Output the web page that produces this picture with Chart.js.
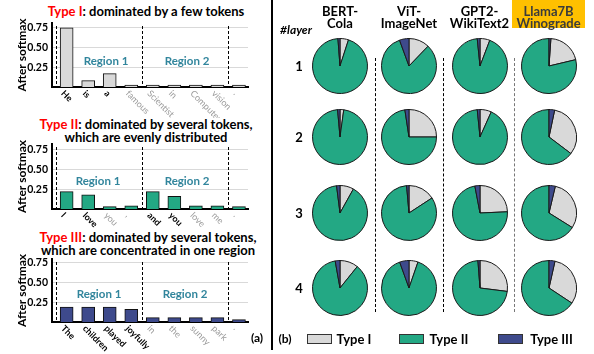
<!DOCTYPE html>
<html>
<head>
<meta charset="utf-8">
<script src="https://cdn.jsdelivr.net/npm/chart.js@4.4.1/dist/chart.umd.min.js"></script>
<style>
  html, body { margin: 0; padding: 0; background: #fff; }
  #fig { position: relative; width: 594px; height: 354px; overflow: hidden;
         font-family: Lato, "Open Sans", sans-serif; font-weight: 700; color: #000; }
  canvas { position: absolute; }
  .title { position: absolute; left: 0; width: 292px; text-align: center; font-size: 13px;
           line-height: 13px; white-space: nowrap; }
  .red { color: #ff0000; }
  .region { position: absolute; color: #31859c; font-size: 11.5px; white-space: nowrap;
            transform: translate(-50%, -50%); }
  .lbl { position: absolute; white-space: nowrap; transform: translate(-50%, -50%); }
  .head { position: absolute; top: 5px; width: 80px; margin-left: -40px; text-align: center;
          font-size: 13px; line-height: 12px; }
  .vline { position: absolute; width: 0; }
  .swatch { position: absolute; width: 23px; height: 8px; border: 1px solid #333; top: 334px; }
</style>
</head>
<body>
<div id="fig">
  <div class="title" style="top:5px"><span class="red">Type I</span>: dominated by a few tokens</div>
  <div class="title" style="top:118px"><span class="red">Type II</span>: dominated by several tokens,<br>which are evenly distributed</div>
  <div class="title" style="top:231px;left:2px"><span class="red">Type III</span>: dominated by several tokens,<br>which are concentrated in one region</div>

  <canvas id="barTypeI" width="260" height="118" style="left:0;top:0"></canvas>
  <canvas id="barTypeII" width="260" height="118" style="left:0;top:115px"></canvas>
  <canvas id="barTypeIII" width="260" height="124" style="left:0;top:230px"></canvas>

  <div class="region" style="left:106px;top:60px">Region 1</div>
  <div class="region" style="left:187px;top:60px">Region 2</div>
  <div class="region" style="left:98px;top:180px">Region 1</div>
  <div class="region" style="left:187px;top:180px">Region 2</div>
  <div class="region" style="left:99px;top:293px">Region 1</div>
  <div class="region" style="left:185px;top:293px">Region 2</div>

  <div class="lbl" style="left:257px;top:337px;font-size:12px">(a)</div>
  <div class="lbl" style="left:285px;top:338px;font-size:12px">(b)</div>

  <div class="vline" style="left:271px;top:0;height:350px;border-left:2px solid #000"></div>
  <div class="vline" style="left:375px;top:58px;height:254px;border-left:1px dashed #000"></div>
  <div class="vline" style="left:443px;top:58px;height:254px;border-left:1px dashed #000"></div>
  <div class="vline" style="left:514px;top:58px;height:254px;border-left:1px dashed #777"></div>

  <div style="position:absolute;left:512px;top:0;width:73px;height:28px;background:#ffc000"></div>
  <div id="heads"></div>
  <div class="lbl" style="left:296px;top:29px;font-size:12px;font-style:italic">#layer</div>
  <div id="rows"></div>

  <div class="swatch" style="left:307px;background:#d9d9d9"></div>
  <div class="lbl" style="left:354px;top:338.5px;font-size:13px">Type I</div>
  <div class="swatch" style="left:399px;background:#23a884"></div>
  <div class="lbl" style="left:449px;top:338.5px;font-size:13px">Type II</div>
  <div class="swatch" style="left:498px;background:#3e4a8c"></div>
  <div class="lbl" style="left:551.5px;top:338.5px;font-size:13px">Type III</div>
</div>

<script>
// ---- token attention after softmax, one row per sentence ----
const typeITokens = ['He', 'is', 'a', 'famous', 'Scientist', 'in', 'Computer', 'vision', '.'];
const typeIValues = [0.75, 0.08, 0.17, 0.025, 0.025, 0.025, 0.025, 0.025, 0.025];
const typeIDominant = [0, 1, 2];

const typeIITokens = ['I', 'love', 'you', ',', 'and', 'you', 'love', 'me', '.'];
const typeIIValues = [0.22, 0.18, 0.03, 0.04, 0.22, 0.16, 0.04, 0.04, 0.03];
const typeIIDominant = [0, 1, 4, 5];

const typeIIITokens = ['The', 'children', 'played', 'joyfully', 'in', 'the', 'sunny', 'park', '.'];
const typeIIIValues = [0.19, 0.19, 0.19, 0.16, 0.055, 0.055, 0.055, 0.055, 0.03];
const typeIIIDominant = [0, 1, 2, 3];

// first token index of Region 1, Region 2 and the trailing token
const regionStarts = [0, 4, 8];
const yTicks = [0.25, 0.5, 0.75];

// ---- share (%) of heads per attention type: [Type I, Type II, Type III] ----
const typeNames = ['Type I', 'Type II', 'Type III'];
const models = [['BERT-', 'Cola'], ['ViT-', 'ImageNet'], ['GPT2-', 'WikiText2'], ['Llama7B', 'Winograde']];
const layers = ['1', '2', '3', '4'];
const bertCola       = [[5.0, 93.8, 1.2], [2.2, 96.4, 1.4], [8.1, 89.9, 2.0], [10.8, 86.4, 2.8]];
const vitImageNet    = [[12.2, 82.2, 5.6], [25.0, 72.6, 2.4], [15.8, 82.8, 1.4], [5.3, 89.2, 5.5]];
const gpt2WikiText2  = [[5.8, 92.6, 1.6], [6.7, 91.7, 1.6], [24.3, 72.7, 3.0], [27.0, 71.8, 1.2]];
const llamaWinograde = [[20.2, 78.7, 1.1], [32.0, 64.7, 3.3], [30.2, 66.1, 3.7], [30.8, 65.7, 3.5]];
// which type's slice begins at twelve o'clock for each model
const firstSlice = ['Type I', 'Type I', 'Type I', 'Type III'];

const GREY = '#d9d9d9', GREEN = '#23a884', NAVY = '#3e4a8c';
const FONT = 'Lato, "Open Sans", sans-serif';

Chart.defaults.animation = false;
Chart.defaults.font.family = FONT;

// token labels under the axis and dashed region dividers
const tokenAxis = {
  id: 'tokenAxis',
  afterDatasetsDraw(chart, args, opts) {
    const { ctx, chartArea, scales: { x } } = chart;
    ctx.save();
    ctx.strokeStyle = '#000';
    ctx.lineWidth = 1;
    ctx.setLineDash([3, 2]);
    opts.starts.forEach(s => {
      const px = Math.round(x.getPixelForValue(s - 0.5)) + 0.5;
      ctx.beginPath();
      ctx.moveTo(px, chartArea.top + 3);
      ctx.lineTo(px, chartArea.bottom);
      ctx.stroke();
    });
    ctx.setLineDash([]);
    opts.tokens.forEach((t, i) => {
      const key = opts.dominant.includes(i);
      ctx.save();
      ctx.translate(x.getPixelForValue(i) - 4, chartArea.bottom + 5);
      ctx.rotate(Math.PI / 4);
      ctx.font = (key ? 'bold ' : '') + '9px ' + FONT;
      ctx.fillStyle = key ? '#000' : '#9a9a9a';
      ctx.textAlign = 'left';
      ctx.textBaseline = 'middle';
      ctx.fillText(t, 0, 0);
      ctx.restore();
    });
    ctx.restore();
  }
};

function barChart(id, tokens, values, dominant, color, yMax, padTop, padBottom) {
  return new Chart(document.getElementById(id), {
    type: 'bar',
    data: {
      datasets: [{
        data: values.map((v, i) => ({ x: i, y: v })),
        backgroundColor: color,
        borderColor: '#111',
        borderWidth: 1,
        borderSkipped: 'bottom',
        barThickness: 13
      }]
    },
    options: {
      responsive: false,
      layout: { padding: { left: 0, right: 12, top: padTop, bottom: padBottom } },
      plugins: {
        legend: { display: false },
        tooltip: { enabled: false },
        tokenAxis: { tokens, dominant, starts: regionStarts }
      },
      scales: {
        x: {
          type: 'linear',
          offset: false,
          min: -0.68,
          max: 8.42,
          ticks: { display: false },
          grid: { display: false, drawTicks: false },
          border: { color: '#000', width: 2 },
          afterFit: s => { s.height = 0; }
        },
        y: {
          min: 0,
          max: yMax,
          afterBuildTicks: s => { s.ticks = yTicks.map(v => ({ value: v })); },
          ticks: {
            padding: 4,
            color: '#000',
            font: { size: 10.5, weight: 'bold' },
            callback: v => v.toFixed(2)
          },
          grid: { color: '#d9d9d9', lineWidth: 1, drawTicks: false },
          border: { color: '#000', width: 2 },
          title: {
            display: true,
            text: 'After softmax',
            color: '#000',
            font: { size: 12, weight: 'bold' },
            padding: { top: 15, bottom: 0 }
          },
          afterFit: s => { s.width = 52; }
        }
      }
    },
    plugins: [tokenAxis]
  });
}

barChart('barTypeI', typeITokens, typeIValues, typeIDominant, GREY, 0.81, 23, 31);
barChart('barTypeII', typeIITokens, typeIIValues, typeIIDominant, GREEN, 0.825, 29, 24);
barChart('barTypeIII', typeIIITokens, typeIIIValues, typeIIIDominant, NAVY, 0.80, 29, 32);

// ---- pie grid ----
const fig = document.getElementById('fig');
const colX = [340, 409, 479.5, 548.5];
const rowY = [66, 137, 213, 288];
const shares = [bertCola, vitImageNet, gpt2WikiText2, llamaWinograde];

models.forEach((m, c) => {
  const h = document.createElement('div');
  h.className = 'head';
  h.style.left = colX[c] + 'px';
  if (c === 3) h.style.color = '#3b3b3b';
  h.innerHTML = m[0] + '<br>' + m[1];
  fig.appendChild(h);
});

layers.forEach((l, r) => {
  const d = document.createElement('div');
  d.className = 'lbl';
  d.style.left = '299px';
  d.style.top = rowY[r] + 'px';
  d.style.fontSize = '13px';
  d.textContent = l;
  fig.appendChild(d);
});

const SIZE = 56;
shares.forEach((model, c) => {
  model.forEach((vals, r) => {
    const cv = document.createElement('canvas');
    cv.width = SIZE;
    cv.height = SIZE;
    cv.style.left = (colX[c] - SIZE / 2) + 'px';
    cv.style.top = (rowY[r] - SIZE / 2) + 'px';
    fig.appendChild(cv);
    const total = vals.reduce((a, b) => a + b, 0);
    // start so that the chosen type's slice sits just clockwise of twelve o'clock
    const rotation = firstSlice[c] === 'Type III' ? 360 * vals[2] / total : 0;
    new Chart(cv, {
      type: 'pie',
      data: {
        labels: typeNames,
        datasets: [{
          data: vals,
          backgroundColor: [GREY, GREEN, NAVY],
          borderColor: '#1a1a1a',
          borderWidth: 1
        }]
      },
      options: {
        responsive: false,
        rotation,
        layout: { padding: 0 },
        plugins: { legend: { display: false }, tooltip: { enabled: false } }
      }
    });
  });
});
</script>
</body>
</html>
